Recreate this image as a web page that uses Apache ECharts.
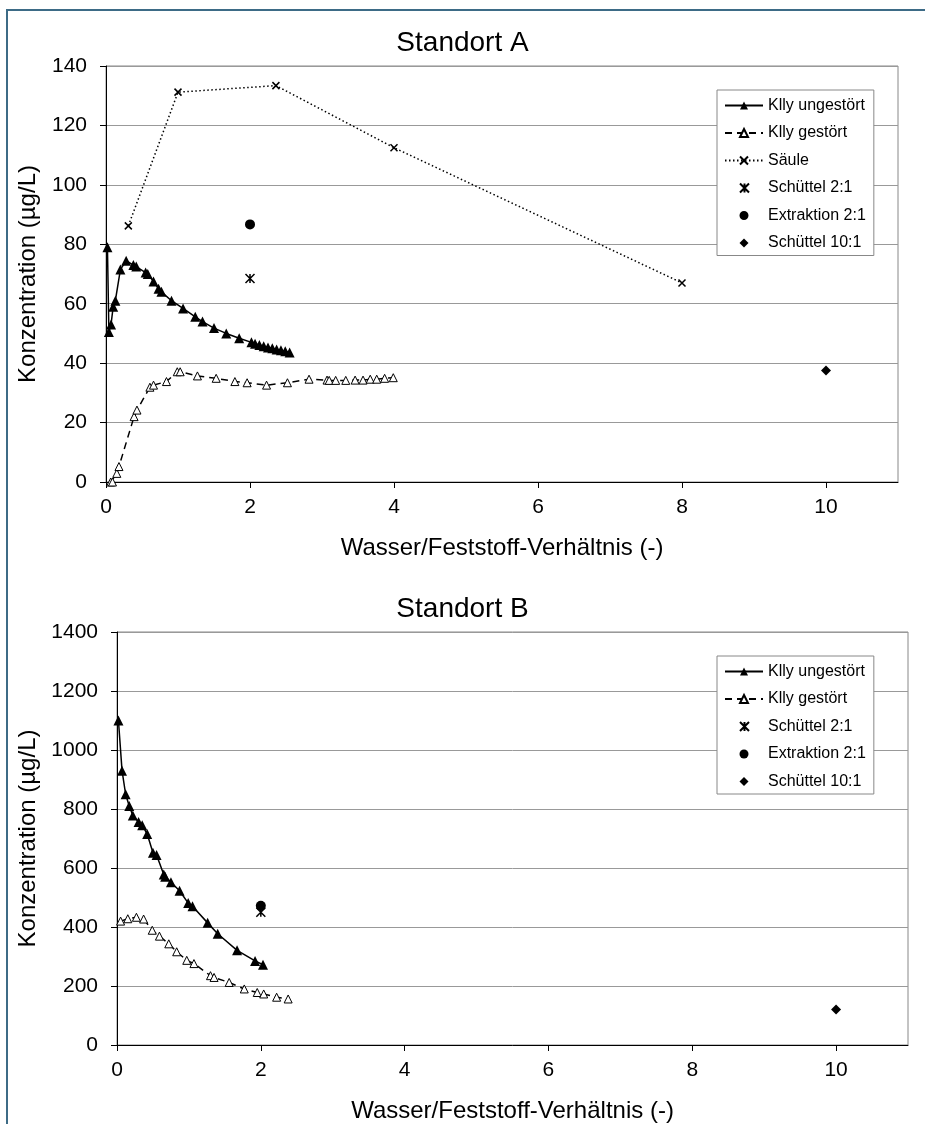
<!DOCTYPE html>
<html>
<head>
<meta charset="utf-8">
<title>Standort A / B</title>
<script src="https://cdn.jsdelivr.net/npm/echarts@6/dist/echarts.min.js"></script>
<style>
    html, body { margin: 0; padding: 0; background: #fff; }
    #chart { width: 925px; height: 1124px; }
</style>
</head>
<body>
<div id="chart"></div>
<script>
// Standort A  [Wasser/Feststoff, Konzentration]
var aUngestoert = [[0.02, 79], [0.04, 50.5], [0.07, 53], [0.1, 59], [0.13, 61], [0.2, 71.5], [0.28, 74.5],
    [0.38, 73], [0.42, 72.5], [0.55, 70.5], [0.58, 70], [0.66, 67.5], [0.73, 65], [0.77, 64], [0.91, 61],
    [1.07, 58.4], [1.24, 55.6], [1.34, 54], [1.5, 51.8], [1.67, 50], [1.85, 48.4], [2.02, 47], [2.07, 46.5],
    [2.13, 46.1], [2.19, 45.7], [2.25, 45.3], [2.31, 45], [2.37, 44.6], [2.43, 44.3], [2.49, 44], [2.55, 43.6]];
var aGestoert = [[0.065, 0], [0.09, 0], [0.15, 2.9], [0.18, 5.2], [0.39, 22], [0.43, 24.2], [0.61, 31.9],
    [0.66, 32.6], [0.84, 33.8], [0.99, 37.1], [1.03, 37.1], [1.27, 35.7], [1.53, 34.9], [1.79, 33.8],
    [1.96, 33.4], [2.23, 32.6], [2.52, 33.4], [2.82, 34.6], [3.07, 34.3], [3.1, 34.2], [3.19, 34.2],
    [3.33, 34.2], [3.46, 34.3], [3.57, 34.3], [3.67, 34.6], [3.76, 34.6], [3.87, 34.9], [3.99, 35.1]];
var aSaeule = [[0.31, 86.2], [1.0, 131.2], [2.36, 133.4], [4.0, 112.5], [8.0, 67]];
var aSchuettel21 = [[2.0, 68.5]];
var aExtraktion21 = [[2.0, 86.7]];
var aSchuettel101 = [[10, 37.5]];

// Standort B
var bUngestoert = [[0.02, 1100], [0.07, 930], [0.12, 850], [0.17, 810], [0.22, 778], [0.3, 756], [0.35, 745],
    [0.42, 715], [0.5, 652], [0.55, 644], [0.65, 578], [0.67, 570], [0.75, 552], [0.87, 523], [0.99, 481],
    [1.05, 470], [1.26, 414], [1.4, 377], [1.67, 321], [1.92, 285], [2.03, 272]];
var bGestoert = [[0.05, 420], [0.15, 428], [0.27, 433], [0.37, 427], [0.49, 389], [0.59, 369], [0.72, 343],
    [0.83, 316], [0.97, 287], [1.07, 276], [1.3, 235], [1.35, 229], [1.56, 212], [1.77, 190], [1.95, 178],
    [2.04, 173], [2.22, 162], [2.38, 156]];
var bSchuettel21 = [[2.0, 450]];
var bExtraktion21 = [[2.0, 472]];
var bSchuettel101 = [[10, 120]];

var xTicks = [0, 2, 4, 6, 8, 10];

var font = "'Liberation Sans', Arial, sans-serif";
var crossPath = 'path://M0,0L10,10M10,0L0,10';
var starPath = 'path://M0,0L10,10M10,0L0,10M5,0L5,10';
// legend icons: 38x10 box, symbol in the middle so it is not stretched
var starIcon = 'path://M0,5M38,5M15,0.5L24,9.5M24,0.5L15,9.5M19.5,0.5L19.5,9.5';
var circleIcon = 'path://M0,5M38,5M19,0.5A4.5,4.5,0,1,1,18.99,0.5Z';
var diamondIcon = 'path://M0,5M38,5M19,0.5L23.5,5L19,9.5L14.5,5Z';

var legendA = ['Klly ungestört', 'Klly gestört', 'Säule',
    {name: 'Schüttel 2:1', icon: starIcon},
    {name: 'Extraktion 2:1', icon: circleIcon},
    {name: 'Schüttel 10:1', icon: diamondIcon}];
var legendB = ['Klly ungestört', 'Klly gestört',
    {name: 'Schüttel 2:1', icon: starIcon},
    {name: 'Extraktion 2:1', icon: circleIcon},
    {name: 'Schüttel 10:1', icon: diamondIcon}];

function xAxisOpt(gridIndex) {
    return {
        type: 'value', gridIndex: gridIndex, min: 0, max: 11,
        name: 'Wasser/Feststoff-Verhältnis (-)', nameLocation: 'middle', nameGap: 54,
        nameTextStyle: {fontSize: 24, fontFamily: font, color: '#000'},
        axisLine: {lineStyle: {color: '#000', width: 1}},
        axisTick: {customValues: xTicks, length: 6, lineStyle: {color: '#000'}},
        axisLabel: {
            customValues: xTicks, margin: 15, fontSize: 21, fontFamily: font, color: '#000',
            formatter: function (v) { return v % 2 === 0 && v <= 10 ? String(v) : ''; }
        },
        splitLine: {show: false}
    };
}

function yAxisOpt(gridIndex, max, interval, gap) {
    return {
        type: 'value', gridIndex: gridIndex, min: 0, max: max, interval: interval,
        name: 'Konzentration (µg/L)', nameLocation: 'middle', nameGap: gap,
        nameTextStyle: {fontSize: 24, fontFamily: font, color: '#000'},
        axisLine: {show: true, lineStyle: {color: '#000', width: 1}},
        axisTick: {show: true, length: 6, lineStyle: {color: '#000'}},
        axisLabel: {
            margin: 19, fontSize: 21, fontFamily: font, color: '#000',
            formatter: function (v) { return String(v); }
        },
        splitLine: {show: true, lineStyle: {color: '#999', width: 1}}
    };
}

function legendOpt(names, top) {
    return {
        data: names, orient: 'vertical', left: 717, top: top,
        itemWidth: 38, itemHeight: 10, itemGap: 10.5,
        padding: [7, 8, 4, 7],
        borderColor: '#888', borderWidth: 1, backgroundColor: '#fff',
        selectedMode: false,
        textStyle: {fontSize: 16, fontFamily: font, color: '#000', lineHeight: 17}
    };
}

function ungestoert(data, idx) {
    return {
        name: 'Klly ungestört', type: 'line', data: data, xAxisIndex: idx, yAxisIndex: idx,
        symbol: 'triangle', symbolSize: 10,
        itemStyle: {color: '#000'},
        lineStyle: {color: '#000', width: 1.5},
        animation: false
    };
}

function gestoert(data, idx) {
    return {
        name: 'Klly gestört', type: 'line', data: data, xAxisIndex: idx, yAxisIndex: idx,
        symbol: 'triangle', symbolSize: 8,
        itemStyle: {color: '#fff', borderColor: '#000', borderWidth: 1},
        lineStyle: {color: '#000', width: 1.5, type: [7, 5]},
        animation: false
    };
}

function scatter(name, data, idx, symbol, size, stroked) {
    return {
        name: name, type: 'scatter', data: data, xAxisIndex: idx, yAxisIndex: idx,
        symbol: symbol, symbolSize: size,
        itemStyle: stroked ? {color: '#000', borderColor: '#000', borderWidth: 1.5, opacity: 1}
                           : {color: '#000', opacity: 1},
        animation: false
    };
}

var chart = echarts.init(document.getElementById('chart'));

var option = {
    backgroundColor: '#fff',
    title: [
        {text: 'Standort A', left: 'center', top: 24, textStyle: {fontSize: 28, fontWeight: 'normal', fontFamily: font, color: '#000'}},
        {text: 'Standort B', left: 'center', top: 590, textStyle: {fontSize: 28, fontWeight: 'normal', fontFamily: font, color: '#000'}}
    ],
    graphic: [{
        type: 'rect', silent: true, z: 100,
        shape: {x: 7, y: 10, width: 1000, height: 1200},
        style: {fill: 'none', stroke: '#3d6b86', lineWidth: 2}
    }],
    grid: [
        {left: 106, top: 66, width: 792, height: 416, show: true, borderColor: '#888', borderWidth: 1},
        {left: 117, top: 632, width: 791, height: 416, show: true, borderColor: '#888', borderWidth: 1}
    ],
    xAxis: [xAxisOpt(0), xAxisOpt(1)],
    yAxis: [yAxisOpt(0, 140, 20, 66), yAxisOpt(1, 1400, 200, 77)],
    legend: [legendOpt(legendA, 90), legendOpt(legendB, 656)],
    series: [
        ungestoert(aUngestoert, 0),
        gestoert(aGestoert, 0),
        {
            name: 'Säule', type: 'line', data: aSaeule, xAxisIndex: 0, yAxisIndex: 0,
            symbol: crossPath, symbolSize: 7,
            itemStyle: {color: '#000', borderColor: '#000', borderWidth: 1.5},
            lineStyle: {color: '#000', width: 1.5, type: [1.5, 2.5]},
            animation: false
        },
        scatter('Schüttel 2:1', aSchuettel21, 0, starPath, 9, true),
        scatter('Extraktion 2:1', aExtraktion21, 0, 'circle', 10, false),
        scatter('Schüttel 10:1', aSchuettel101, 0, 'diamond', 10, false),

        ungestoert(bUngestoert, 1),
        gestoert(bGestoert, 1),
        scatter('Schüttel 2:1', bSchuettel21, 1, starPath, 9, true),
        scatter('Extraktion 2:1', bExtraktion21, 1, 'circle', 10, false),
        scatter('Schüttel 10:1', bSchuettel101, 1, 'diamond', 10, false)
    ]
};

chart.setOption(option);
</script>
</body>
</html>
